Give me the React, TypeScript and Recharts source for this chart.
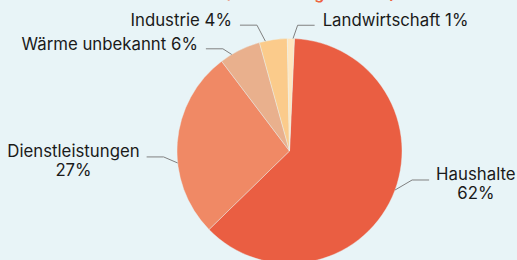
import React from 'react';
import { PieChart, Pie, Cell } from 'recharts';

const categories = ['Haushalte', 'Dienstleistungen', 'Wärme unbekannt', 'Industrie', 'Landwirtschaft'];
const shares = [62, 27, 6, 4, 1];
const shareLabels = ['62%', '27%', '6%', '4%', '1%'];
const titleText = '(Anteil Energiebedarf)';

const colors = ['#EA5E42', '#F08965', '#E9B08D', '#FBCB8B', '#FFE6BF'];
const twoLine = [true, true, false, false, false];
const labelStartShift = [3.8, 10.4, 4.6, 4.1, -1.1];
const labelElbowShift = [10.8, 7, 6.8, 6.2, -3];
const labelElbowRadius = [126, 126, 122, 130, 126];

const data = categories.map((name, i) => ({ name, value: shares[i] }));

const FONT_FAMILY = 'Inter, "Noto Sans", sans-serif';
const FONT_SIZE = 16.8;
let ctx: CanvasRenderingContext2D | null = null;
function textWidth(s: string): number {
  if (!ctx) ctx = document.createElement('canvas').getContext('2d');
  if (!ctx) return s.length * 9;
  ctx.font = `${FONT_SIZE}px Inter`;
  return ctx.measureText(s).width;
}

const RAD = Math.PI / 180;

function renderLabel(props: any) {
  const { cx, cy, midAngle, outerRadius, index } = props;
  const a0 = (midAngle + labelStartShift[index]) * RAD;
  const a1 = (midAngle + labelElbowShift[index]) * RAD;
  const sx = cx + outerRadius * Math.cos(a0);
  const sy = cy - outerRadius * Math.sin(a0);
  const r1 = labelElbowRadius[index];
  const ex = cx + r1 * Math.cos(a1);
  const ey = cy - r1 * Math.sin(a1);
  const right = ex > cx;
  const hx = ex + (right ? 17 : -17);
  const gap = twoLine[index] ? 7 : 8;
  const tx = hx + (right ? gap : -gap);
  const name = categories[index];
  const pct = shareLabels[index];
  const textProps = { fontFamily: FONT_FAMILY, fontSize: FONT_SIZE, fill: '#1a1a1a' };
  let text;
  if (twoLine[index]) {
    const w = textWidth(name);
    const center = right ? tx + w / 2 : tx - w / 2;
    text = (
      <g>
        <text x={center} y={ey} textAnchor="middle" {...textProps}>{name}</text>
        <text x={center} y={ey + 19} textAnchor="middle" {...textProps}>{pct}</text>
      </g>
    );
  } else {
    text = (
      <text x={tx} y={ey + 1} textAnchor={right ? 'start' : 'end'} {...textProps}>
        {`${name} ${pct}`}
      </text>
    );
  }
  return (
    <g key={`lbl-${index}`}>
      <polyline points={`${sx},${sy} ${ex},${ey} ${hx},${ey}`} fill="none" stroke="#808080" strokeWidth={1} />
      {text}
    </g>
  );
}

export default function App() {
  return (
    <div style={{ position: 'relative', width: 517, height: 260, overflow: 'hidden', background: '#E8F4F7' }}>
      <style>{`body{margin:0}`}</style>
      <div
        style={{
          position: 'absolute',
          left: 310,
          top: -15,
          transform: 'translateX(-50%)',
          whiteSpace: 'nowrap',
          fontFamily: FONT_FAMILY,
          fontSize: 16,
          lineHeight: '16px',
          fontWeight: 600,
          color: '#EE6440',
        }}
      >
        {titleText}
      </div>
      <PieChart width={517} height={260} margin={{ top: 0, right: 0, bottom: 0, left: 0 }}>
        <Pie
          data={data}
          dataKey="value"
          nameKey="name"
          cx={289.5}
          cy={151}
          outerRadius={112.5}
          startAngle={87.5}
          endAngle={-272.5}
          stroke="#E8F4F7"
          strokeWidth={0.4}
          isAnimationActive={false}
          labelLine={false}
          label={renderLabel}
        >
          {data.map((d, i) => (
            <Cell key={d.name} fill={colors[i]} />
          ))}
        </Pie>
      </PieChart>
    </div>
  );
}
